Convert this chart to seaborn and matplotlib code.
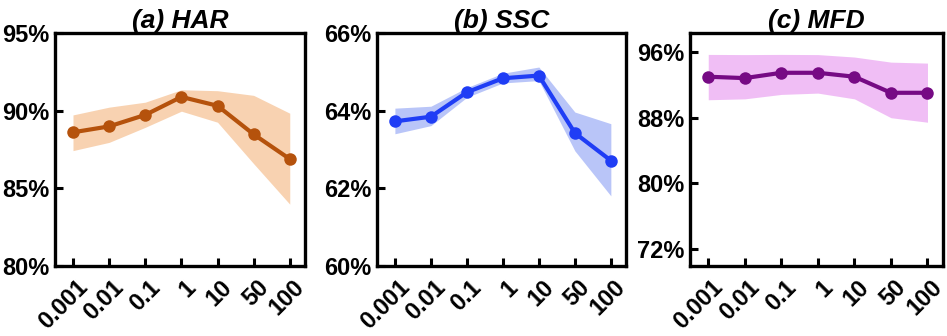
import numpy as np
import pandas as pd
import matplotlib
matplotlib.use("Agg")
import matplotlib.pyplot as plt
import matplotlib.transforms as mtransforms
import seaborn as sns

# ============================================================
# Data
# ============================================================

lambdas = ["0.001", "0.01", "0.1", "1", "10", "50", "100"]

har_mean = [88.62, 89.0, 89.74, 90.9, 90.33, 88.49, 86.9]
har_low = [87.44, 87.97, 88.94, 89.98, 89.27, 86.6, 83.99]
har_high = [89.74, 90.24, 90.56, 91.36, 91.3, 91.0, 89.85]

ssc_mean = [63.73, 63.85, 64.48, 64.84, 64.91, 63.43, 62.72]
ssc_low = [63.41, 63.62, 64.35, 64.72, 64.78, 62.97, 61.81]
ssc_high = [64.07, 64.12, 64.6, 64.97, 65.13, 63.97, 63.67]

mfd_mean = [93.0, 92.83, 93.48, 93.48, 93.0, 91.04, 91.04]
mfd_low = [90.19, 90.3, 90.84, 91.0, 90.3, 88.0, 87.45]
mfd_high = [95.72, 95.7, 95.72, 95.7, 95.4, 94.78, 94.66]

titles = ["(a) HAR", "(b) SSC", "(c) MFD"]
y_ticks = [[80, 85, 90, 95], [60, 62, 64, 66], [72, 80, 88, 96]]
y_limits = [(80, 95), (60, 66), (69.9, 98.3)]

line_colors = ["#B5520C", "#1F3DF5", "#760A84"]
band_colors = ["#F3AE72", "#8096F4", "#E48AEE"]

# ============================================================
# Style
# ============================================================

sns.set_style("ticks")
plt.rcParams["font.family"] = ["Liberation Sans", "DejaVu Sans"]
plt.rcParams["font.weight"] = "bold"
plt.rcParams["text.color"] = "black"
plt.rcParams["xtick.color"] = "black"
plt.rcParams["ytick.color"] = "black"
plt.rcParams["axes.labelcolor"] = "black"

fig = plt.figure(figsize=(9.47, 3.36), dpi=100)

positions = [
    [0.058, 0.208, 0.264, 0.693],
    [0.398, 0.208, 0.263, 0.693],
    [0.7286, 0.208, 0.267, 0.693],
]

series = [
    (har_mean, har_low, har_high),
    (ssc_mean, ssc_low, ssc_high),
    (mfd_mean, mfd_low, mfd_high),
]

xpos = np.arange(len(lambdas))

# shift rotated labels a little to the right / down like the reference
label_shift = mtransforms.ScaledTranslation(3 / 100, -4 / 100, fig.dpi_scale_trans)

for i, (mean, low, high) in enumerate(series):

    ax = fig.add_axes(positions[i])

    ax.fill_between(xpos, low, high, color=band_colors[i], alpha=0.55, linewidth=0)

    df = pd.DataFrame({"x": xpos, "y": mean})

    sns.lineplot(
        data=df,
        x="x",
        y="y",
        ax=ax,
        color=line_colors[i],
        linewidth=3.0,
        marker="o",
        markersize=9,
        markeredgewidth=0,
    )

    ax.set_xlim(-0.5, 6.42)
    ax.set_ylim(*y_limits[i])
    ax.tick_params(direction="in", length=6, width=2.2, pad=4)

    ax.set_xticks(xpos)
    ax.set_xticklabels(lambdas, rotation=45, ha="right", va="top",
                       rotation_mode="anchor", fontsize=17, fontweight="bold")
    for lab in ax.get_xticklabels():
        lab.set_transform(lab.get_transform() + label_shift)
    ax.set_yticks(y_ticks[i])
    ax.set_yticklabels([f"{t}%" for t in y_ticks[i]], fontsize=17, fontweight="bold")
    ax.set_xlabel("")
    ax.set_ylabel("")

    for side in ["top", "right", "bottom", "left"]:
        ax.spines[side].set_visible(True)
        ax.spines[side].set_linewidth(2.4)
        ax.spines[side].set_color("black")

    ax.set_title(titles[i], fontsize=19, fontweight="bold", fontstyle="italic", pad=4)

plt.savefig("out.png", dpi=100)
plt.close()
